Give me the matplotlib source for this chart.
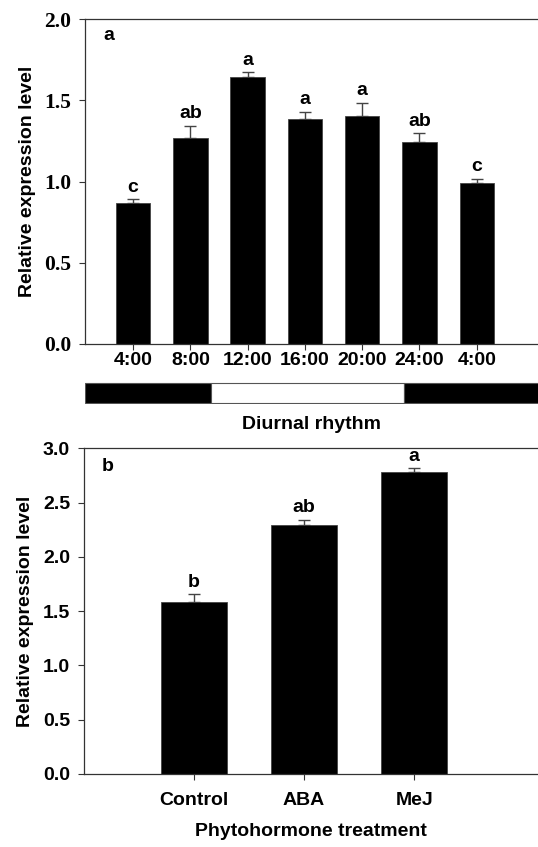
import numpy as np
import matplotlib
matplotlib.use('Agg')
from matplotlib import pyplot as plt

# Panel a: diurnal rhythm
times = ['4:00', '8:00', '12:00', '16:00', '20:00', '24:00', '4:00']
diurnal_mean = [0.867, 1.269, 1.645, 1.388, 1.407, 1.245, 0.994]
diurnal_err = [0.026, 0.076, 0.030, 0.043, 0.080, 0.055, 0.025]
diurnal_letters = ['c', 'ab', 'a', 'a', 'a', 'ab', 'c']

# Light/dark bar under panel a (start, end in bar-index units, colour)
light_segments = [(-0.84, 1.36, 'black'), (1.36, 4.73, 'white'), (4.73, 7.2, 'black')]

# Panel b: phytohormone treatment
treatments = ['Control', 'ABA', 'MeJ']
hormone_mean = [1.581, 2.293, 2.778]
hormone_err = [0.076, 0.049, 0.042]
hormone_letters = ['b', 'ab', 'a']

sans = 'Liberation Sans'
serif = 'Liberation Serif'
spine_col = '#333333'
fs = 14

fig = plt.figure(figsize=(5.38, 8.47), dpi=100)

# ---------------- panel a ----------------
ax1 = fig.add_axes([0.158, 0.5939, 0.842, 0.3834])
x1 = np.arange(len(times))
ax1.bar(x1, diurnal_mean, width=0.6, color='black', edgecolor='#444444', linewidth=0.6, zorder=2)
ax1.errorbar(x1, diurnal_mean, yerr=[np.zeros(len(x1)), diurnal_err], fmt='none',
             ecolor='#444444', elinewidth=1, capsize=4, capthick=1, zorder=1)
for xi, m, e, lab in zip(x1, diurnal_mean, diurnal_err, diurnal_letters):
    ax1.text(xi, m + e + 0.02, lab, ha='center', va='bottom', fontsize=fs,
             fontweight='bold', family=sans)
ax1.set_xlim(-0.84, 7.07)
ax1.set_ylim(0, 2.0)
ax1.set_yticks([0.0, 0.5, 1.0, 1.5, 2.0])
ax1.set_yticklabels(['0.0', '0.5', '1.0', '1.5', '2.0'], family=serif, fontweight='bold', fontsize=15.5)
ax1.set_xticks(x1)
ax1.set_xticklabels(times, family=sans, fontweight='bold', fontsize=fs)
ax1.tick_params(axis='both', direction='out', length=4, width=0.8, color=spine_col, pad=6)
ax1.tick_params(axis='x', pad=2)
ax1.set_ylabel('Relative expression level', family=sans, fontweight='bold', fontsize=fs, labelpad=6)
ax1.text(0.04, 0.95, 'a', transform=ax1.transAxes, fontsize=fs, fontweight='bold',
         family=sans, va='center', ha='left')
for s in ['left', 'bottom', 'top']:
    ax1.spines[s].set_color(spine_col)
    ax1.spines[s].set_linewidth(0.9)
ax1.spines['right'].set_visible(False)

# light/dark bar
axl = fig.add_axes([0.158, 0.5230, 0.842, 0.0260])
for start, end, col in light_segments:
    axl.barh(0, end - start, left=start, height=0.9, color=col, edgecolor='#555555', linewidth=0.8)
axl.set_xlim(-0.84, 7.07)
axl.set_ylim(-0.5, 0.5)
axl.axis('off')
fig.text(0.158 + 0.842 / 2, 0.4985, 'Diurnal rhythm', ha='center', va='center',
         family=sans, fontweight='bold', fontsize=fs)

# ---------------- panel b ----------------
ax2 = fig.add_axes([0.156, 0.0862, 0.844, 0.3845])
x2 = np.arange(len(treatments))
ax2.bar(x2, hormone_mean, width=0.6, color='black', edgecolor='#444444', linewidth=0.6, zorder=2)
ax2.errorbar(x2, hormone_mean, yerr=[np.zeros(len(x2)), hormone_err], fmt='none',
             ecolor='#444444', elinewidth=1, capsize=4, capthick=1, zorder=1)
for xi, m, e, lab in zip(x2, hormone_mean, hormone_err, hormone_letters):
    ax2.text(xi, m + e + 0.03, lab, ha='center', va='bottom', fontsize=fs,
             fontweight='bold', family=sans)
ax2.set_xlim(-1.0, 3.125)
ax2.set_ylim(0, 3.0)
ax2.set_yticks(np.arange(0, 3.01, 0.5))
ax2.set_yticklabels(['%.1f' % v for v in np.arange(0, 3.01, 0.5)], family=sans, fontweight='bold', fontsize=fs)
ax2.set_xticks(x2)
ax2.set_xticklabels(treatments, family=sans, fontweight='bold', fontsize=fs)
ax2.tick_params(axis='both', direction='out', length=4, width=0.8, color=spine_col, pad=6)
ax2.tick_params(axis='x', pad=9)
ax2.set_ylabel('Relative expression level', family=sans, fontweight='bold', fontsize=fs, labelpad=6)
ax2.set_xlabel('Phytohormone treatment', family=sans, fontweight='bold', fontsize=fs, labelpad=10)
ax2.text(0.04, 0.945, 'b', transform=ax2.transAxes, fontsize=fs, fontweight='bold',
         family=sans, va='center', ha='left')
for s in ['left', 'bottom', 'top']:
    ax2.spines[s].set_color(spine_col)
    ax2.spines[s].set_linewidth(0.9)
ax2.spines['right'].set_visible(False)

fig.savefig('out.png', dpi=100)
